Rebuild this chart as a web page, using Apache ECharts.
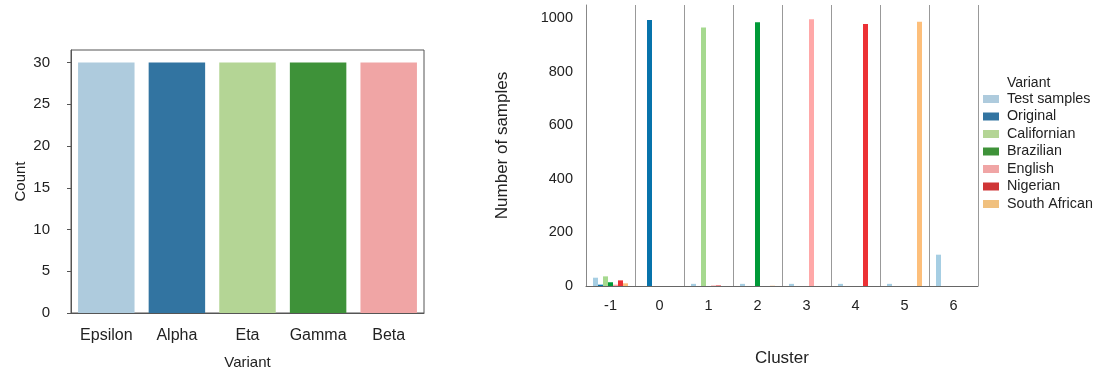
<!DOCTYPE html>
<html>
<head>
<meta charset="utf-8">
<script src="https://cdn.jsdelivr.net/npm/echarts@6/dist/echarts.min.js"></script>
<style>html,body{margin:0;padding:0;background:#fff;}#c{width:1098px;height:371px;}</style>
</head>
<body>
<div id="c"></div>
<script>
// Left chart data
const variants = ['Epsilon', 'Alpha', 'Eta', 'Gamma', 'Beta'];
const counts = [30, 30, 30, 30, 30];
const leftTicks = [0, 5, 10, 15, 20, 25, 30];

// Right chart data
const clusters = ['-1', '0', '1', '2', '3', '4', '5', '6'];
const seriesNames = ['Test samples', 'Original', 'Californian', 'Brazilian', 'English', 'Nigerian', 'South African'];
const testSamples  = [31, 0, 8, 8, 8, 8, 8, 117];
const original     = [5, 994, 0, 0, 0, 0, 0, 0];
const californian  = [36, 0, 966, 0, 0, 0, 0, 0];
const brazilian    = [14, 0, 0, 986, 0, 0, 0, 0];
const english      = [5, 0, 2, 0, 997, 0, 0, 0];
const nigerian     = [21, 0, 2, 0, 0, 979, 0, 0];
const southAfrican = [10, 0, 0, 1, 0, 0, 987, 0];
const rightTicks = [0, 200, 400, 600, 800, 1000];

const leftColors = ['#aecbdd', '#3274a1', '#b4d595', '#3e9239', '#f0a5a5'];
const legendColors = ['#aecbdd', '#3274a1', '#b4d595', '#3e9239', '#f0a5a5', '#cf3536', '#f0c07e'];
const barColors = ['#a6cee3', '#0773ab', '#a6d98f', '#009a38', '#ffa8a8', '#ec3135', '#fdbf7b'];
const rightData = [testSamples, original, californian, brazilian, english, nigerian, southAfrican];

const font = 'Liberation Sans, Arial, sans-serif';
const chart = echarts.init(document.getElementById('c'));

const rightSeries = seriesNames.map((n, i) => ({
  name: n, type: 'bar', xAxisIndex: 1, yAxisIndex: 1,
  data: rightData[i], barWidth: 5, barGap: '0%',
  itemStyle: { color: barColors[i] }, silent: true
}));

chart.setOption({
  animation: false,
  textStyle: { fontFamily: font },
  title: {
    text: 'Variant', left: 1002, top: 71,
    textStyle: { fontFamily: font, fontSize: 14, fontWeight: 'normal', color: '#222' }
  },
  legend: {
    orient: 'vertical', left: 978, top: 86, icon: 'rect',
    itemWidth: 16, itemHeight: 8, itemGap: 1.5,
    textStyle: { fontFamily: font, fontSize: 14.3, color: '#222', padding: [0, 0, 0, 3], lineHeight: 16 },
    data: seriesNames.map((n, i) => ({ name: n, itemStyle: { color: legendColors[i] } })),
    selectedMode: false
  },
  grid: [
    { left: 71, top: 50, width: 353, height: 263, outerBoundsMode: 'none', containLabel: false,
      show: true, borderColor: '#555', borderWidth: 1, backgroundColor: 'transparent' },
    { left: 586, top: 5, width: 392, height: 281, outerBoundsMode: 'none', containLabel: false }
  ],
  xAxis: [
    {
      gridIndex: 0, type: 'category', data: variants,
      name: 'Variant', nameLocation: 'middle', nameGap: 42,
      nameTextStyle: { fontSize: 15, color: '#222', fontFamily: font },
      axisLine: { lineStyle: { color: '#555' } },
      axisTick: { alignWithLabel: true, length: 4, lineStyle: { color: '#555' } },
      axisLabel: { interval: 0, fontSize: 16, color: '#222', margin: 15, fontFamily: font }
    },
    {
      gridIndex: 1, type: 'category', data: clusters,
      name: 'Cluster', nameLocation: 'middle', nameGap: 64,
      nameTextStyle: { fontSize: 17, color: '#222', fontFamily: font },
      axisLine: { lineStyle: { color: '#666' } },
      axisTick: { alignWithLabel: true, length: 4, lineStyle: { color: '#888' } },
      axisLabel: { interval: 0, fontSize: 14.5, color: '#222', margin: 12, fontFamily: font },
      splitLine: { show: true, lineStyle: { color: '#999', width: 1 } }
    }
  ],
  yAxis: [
    {
      gridIndex: 0, type: 'value', min: 0, max: 31.5, interval: 5,
      name: 'Count', nameLocation: 'middle', nameGap: 43,
      nameTextStyle: { fontSize: 15, color: '#222', fontFamily: font },
      axisLine: { show: true, lineStyle: { color: '#555' } },
      axisTick: { show: true, length: 4, lineStyle: { color: '#555' }, customValues: leftTicks },
      axisLabel: { fontSize: 15, color: '#222', margin: 21, fontFamily: font, customValues: leftTicks },
      splitLine: { show: false }
    },
    {
      gridIndex: 1, type: 'value', min: 0, max: 1050, interval: 200,
      name: 'Number of samples', nameLocation: 'middle', nameGap: 75,
      nameTextStyle: { fontSize: 17, color: '#222', fontFamily: font },
      axisLine: { show: true, lineStyle: { color: '#888' } },
      axisTick: { show: false },
      axisLabel: { fontSize: 14.5, color: '#222', margin: 13, fontFamily: font, customValues: rightTicks, formatter: v => String(v) },
      splitLine: { show: false }
    }
  ],
  series: [
    {
      type: 'bar', xAxisIndex: 0, yAxisIndex: 0, barCategoryGap: '20%', silent: true,
      data: counts.map((v, i) => ({ value: v, itemStyle: { color: leftColors[i] } }))
    }
  ].concat(rightSeries)
});
</script>
</body>
</html>
